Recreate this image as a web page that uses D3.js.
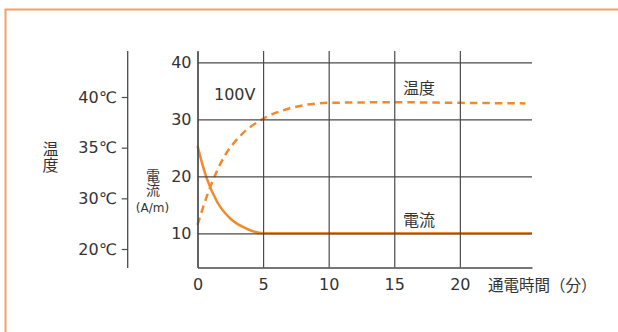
<!DOCTYPE html>
<html><head><meta charset="utf-8">
<script src="https://cdn.jsdelivr.net/npm/d3@7/dist/d3.min.js"></script>
<style>
html,body{margin:0;padding:0;background:#fff;}
svg{display:block;}
text{font-family:"DejaVu Sans","Noto Sans CJK JP",sans-serif;fill:#333;}
.vert{writing-mode:vertical-rl;text-orientation:upright;}
</style></head>
<body>
<script>
// ---- data ----
const xTicks = [0, 5, 10, 15, 20];
const yTicks = [10, 20, 30, 40];
const tempTickLabels = ["40℃", "35℃", "30℃", "20℃"];
const tempTime  = [0, 1, 2, 3.3, 5, 7, 10, 15, 20, 25];
const tempValue = [11.5, 18.3, 23.3, 27.2, 30.1, 31.9, 32.9, 33.0, 32.9, 32.8];
const currTime  = [0, 0.65, 1.5, 2.5, 3.75, 5, 10, 15, 20, 25.5];
const currValue = [25.3, 20.0, 15.5, 12.6, 10.8, 10, 10, 10, 10, 10];
const labels = { voltage: "100V", temp: "温度", current: "電流", xTitle: "通電時間（分）", unit: "(A/m)" };

const W = 618, H = 332;
const orange = "#f28a2c", grid = "#4a4a4a";
const svg = d3.select("body").append("svg").attr("width", W).attr("height", H);

// frame
svg.append("rect").attr("x", 5.5).attr("y", 9.5).attr("width", 700).attr("height", 400)
  .attr("fill", "none").attr("stroke", "#f4a260").attr("stroke-width", 2);

const x = d3.scaleLinear().domain([0, 25.5]).range([197.5, 532]);
const y = d3.scaleLinear().domain([4, 42]).range([267.5, 51]);

const line = d3.line().x(d => x(d[0])).y(d => y(d[1])).curve(d3.curveMonotoneX);

// curves
svg.append("path").datum(tempTime.map((t, i) => [t, tempValue[i]]))
  .attr("d", line).attr("fill", "none").attr("stroke", orange)
  .attr("stroke-width", 2.5).attr("stroke-dasharray", "7.5,5");
svg.append("path").datum(currTime.map((t, i) => [t, currValue[i]]))
  .attr("d", line).attr("fill", "none").attr("stroke", orange).attr("stroke-width", 2.5);

// axes / grid
const gx = svg.append("g").attr("transform", `translate(0,${y.range()[0]})`)
  .call(d3.axisBottom(x).tickValues(xTicks).tickSizeInner(-(y.range()[0] - y.range()[1])).tickSizeOuter(0).tickPadding(11));
const gy = svg.append("g").attr("transform", `translate(${x.range()[0]},0)`)
  .call(d3.axisLeft(y).tickValues(yTicks).tickSizeInner(-(x.range()[1] - x.range()[0])).tickSizeOuter(0).tickPadding(6));
[gx, gy].forEach(g => {
  g.selectAll("path.domain").attr("stroke", grid).attr("stroke-width", 1.3);
  g.selectAll(".tick line").attr("stroke", grid).attr("stroke-width", 1.2);
  g.selectAll(".tick text").attr("font-size", 16).attr("fill", "#333")
    .style("font-family", '"DejaVu Sans","Noto Sans CJK JP",sans-serif');
});

// temperature axis
const tScale = d3.scalePoint().domain(tempTickLabels).range([97, 249]);
const gt = svg.append("g").attr("transform", "translate(127.7,0)")
  .call(d3.axisLeft(tScale).tickSizeInner(6).tickSizeOuter(0).tickPadding(5));
gt.select("path.domain").attr("d", "M0,51V268").attr("stroke", grid).attr("stroke-width", 1.3);
gt.selectAll(".tick line").attr("stroke", grid).attr("stroke-width", 1.2);
gt.selectAll(".tick text").attr("font-size", 16).attr("fill", "#333")
  .style("font-family", '"DejaVu Sans","Noto Sans CJK JP",sans-serif');

// labels
svg.append("text").attr("x", 214).attr("y", 99.5).attr("font-size", 16).text(labels.voltage);
svg.append("text").attr("x", 403).attr("y", 93.5).attr("font-size", 16).text(labels.temp);
svg.append("text").attr("x", 403).attr("y", 225.5).attr("font-size", 16).text(labels.current);
svg.append("text").attr("x", 488).attr("y", 291).attr("font-size", 15.5).text(labels.xTitle);

// vertical left titles
svg.append("text").attr("class", "vert").attr("x", 49).attr("y", 156.5)
  .attr("font-size", 16).attr("text-anchor", "middle").text(labels.temp);
svg.append("text").attr("class", "vert").attr("x", 152).attr("y", 182.5)
  .attr("font-size", 14).attr("text-anchor", "middle").text(labels.current);
svg.append("text").attr("x", 152.5).attr("y", 212).attr("font-size", 12).attr("text-anchor", "middle").text(labels.unit);
</script>
</body></html>
